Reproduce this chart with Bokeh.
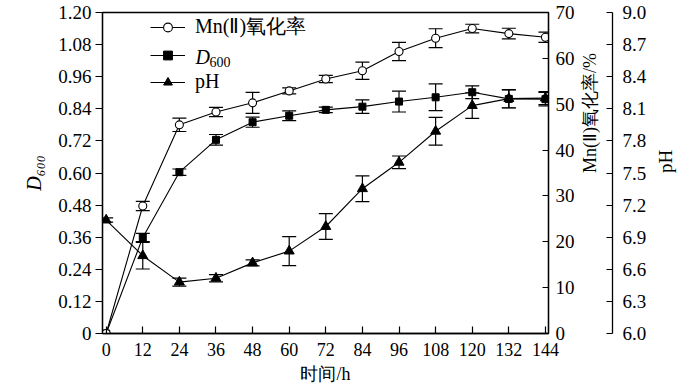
import math
from bokeh.plotting import figure
from bokeh.models import (Range1d, LinearAxis, FixedTicker, Legend, LegendItem, Label)
from bokeh.embed import file_html
from bokeh.resources import INLINE
from bokeh.core.properties import value

# ---------------- data ----------------
hours = [0, 12, 24, 36, 48, 60, 72, 84, 96, 108, 120, 132, 144]

mn_rate = [0, 27.8, 45.5, 48.3, 50.3, 52.9, 55.5, 57.3, 61.5, 64.4, 66.5, 65.4, 64.6]
mn_err = [0, 1.0, 1.45, 1.0, 2.3, 0.65, 0.8, 1.9, 2.0, 2.06, 0.94, 1.16, 1.1]

d600 = [0, 0.359, 0.603, 0.724, 0.790, 0.814, 0.836, 0.848, 0.867, 0.883, 0.902, 0.877, 0.876]
d600_err = [0, 0.015, 0.012, 0.020, 0.019, 0.018, 0.010, 0.025, 0.039, 0.050, 0.024, 0.034, 0.025]

ph = [7.06, 6.727, 6.48, 6.517, 6.66, 6.77, 7.0, 7.353, 7.60, 7.89, 8.13, 8.195, 8.2]
ph_err = [0.02, 0.124, 0.037, 0.034, 0.028, 0.136, 0.12, 0.12, 0.059, 0.13, 0.12, 0.085, 0.06]

x_ticks = [0, 12, 24, 36, 48, 60, 72, 84, 96, 108, 120, 132, 144]
d600_ticks = [0, 0.12, 0.24, 0.36, 0.48, 0.60, 0.72, 0.84, 0.96, 1.08, 1.20]
d600_tick_labels = ["0", "0.12", "0.24", "0.36", "0.48", "0.60", "0.72", "0.84", "0.96", "1.08", "1.20"]
mn_ticks = [0, 10, 20, 30, 40, 50, 60, 70]
ph_ticks = [6.0, 6.3, 6.6, 6.9, 7.2, 7.5, 7.8, 8.1, 8.4, 8.7, 9.0]
ph_tick_labels = ["6.0", "6.3", "6.6", "6.9", "7.2", "7.5", "7.8", "8.1", "8.4", "8.7", "9.0"]

legend_labels = ["Mn(Ⅱ)氧化率", "pH"]
x_title = "时间/h"
d600_title = "D₆₀₀"
mn_title = "Mn(Ⅱ)氧化率/%"
ph_title = "pH"

# ---------------- style ----------------
SERIF = "Liberation Serif"
TICK_FS = "19px"
X0, X1 = -1.2, 145
W, H = 698, 389
TOP, BOTTOM = 12, 56
FRAME_H = H - TOP - BOTTOM

p = figure(width=W, height=H, output_backend="svg", toolbar_location=None,
           x_range=Range1d(X0, X1), y_range=Range1d(0, 1.2),
           min_border_left=102, min_border_right=150, min_border_top=TOP,
           min_border_bottom=BOTTOM)
p.extra_y_ranges = {"mn": Range1d(0, 70), "ph": Range1d(6, 9)}
p.grid.visible = False
p.outline_line_color = "black"
p.outline_line_width = 1.3
p.background_fill_color = "white"
p.border_fill_color = "white"


def style_axis(ax):
    ax.axis_line_color = "black"
    ax.axis_line_width = 1.3
    ax.major_tick_line_color = "black"
    ax.major_tick_line_width = 1.2
    ax.minor_tick_in = 0
    ax.minor_tick_out = 0
    ax.major_label_text_font = SERIF
    ax.major_label_text_color = "black"
    ax.axis_label_text_font = SERIF
    ax.axis_label_text_color = "black"
    ax.axis_label_text_font_style = "normal"


# x axis
xa = p.xaxis[0]
style_axis(xa)
xa.ticker = FixedTicker(ticks=x_ticks)
xa.major_tick_in = 7
xa.major_tick_out = 0
xa.major_label_standoff = 9
xa.major_label_text_font_size = "18px"
xa.axis_label = x_title
xa.axis_label_text_font_size = "18px"
xa.axis_label_standoff = 5

# left axis
ya = p.yaxis[0]
style_axis(ya)
ya.ticker = FixedTicker(ticks=d600_ticks)
ya.major_label_overrides = {t: s for t, s in zip(d600_ticks, d600_tick_labels)}
ya.major_tick_in = 0
ya.major_tick_out = 7
ya.major_label_standoff = 4
ya.major_label_text_font_size = TICK_FS
ya.axis_label = d600_title
ya.axis_label_text_font_size = "20px"
ya.axis_label_text_font_style = "italic"
ya.axis_label_standoff = 10

# Mn axis (right of frame)
ax_mn = LinearAxis(y_range_name="mn", ticker=FixedTicker(ticks=mn_ticks))
style_axis(ax_mn)
ax_mn.major_tick_in = 6
ax_mn.major_tick_out = 0
ax_mn.major_label_standoff = 7
ax_mn.major_label_text_font_size = TICK_FS
ax_mn.axis_label = mn_title
ax_mn.axis_label_text_font_size = "18px"
ax_mn.axis_label_standoff = 12
try:
    ax_mn.axis_label_orientation = math.pi / 2
except Exception:
    pass
p.add_layout(ax_mn, "right")

# invisible spacer between the two right axes
spacer = LinearAxis(y_range_name="mn", ticker=FixedTicker(ticks=[]),
                    axis_line_color=None, major_tick_line_color=None,
                    minor_tick_line_color=None, major_tick_in=0, major_tick_out=12,
                    minor_tick_in=0, minor_tick_out=0, major_label_standoff=0)
p.add_layout(spacer, "right")

# pH axis (further right)
ax_ph = LinearAxis(y_range_name="ph", ticker=FixedTicker(ticks=ph_ticks),
                   major_label_overrides={t: s for t, s in zip(ph_ticks, ph_tick_labels)})
style_axis(ax_ph)
ax_ph.major_tick_in = 6
ax_ph.major_tick_out = 0
ax_ph.major_label_standoff = 10
ax_ph.major_label_text_font_size = TICK_FS
ax_ph.axis_label = ph_title
ax_ph.axis_label_text_font_size = "19px"
ax_ph.axis_label_standoff = 16
try:
    ax_ph.axis_label_orientation = math.pi / 2
except Exception:
    pass
p.add_layout(ax_ph, "right")


def error_bars(xs, ys, es, rng=None):
    kw = {} if rng is None else {"y_range_name": rng}
    bx = [x for x, e in zip(xs, es) if e > 0]
    lo = [y - e for y, e in zip(ys, es) if e > 0]
    hi = [y + e for y, e in zip(ys, es) if e > 0]
    p.segment(x0=bx, y0=lo, x1=bx, y1=hi, line_color="black", line_width=1.2, **kw)
    p.scatter(x=bx + bx, y=lo + hi, marker="dash", size=14, line_color="black",
              line_width=1.2, **kw)


error_bars(hours, d600, d600_err)
error_bars(hours, ph, ph_err, "ph")
error_bars(hours, mn_rate, mn_err, "mn")

r_d_line = p.line(hours, d600, line_color="black", line_width=1.1)
r_p_line = p.line(hours, ph, y_range_name="ph", line_color="black", line_width=1.1)
r_m_line = p.line(hours, mn_rate, y_range_name="mn", line_color="black", line_width=1.1)

r_d_pt = p.scatter(hours, d600, marker="square", size=7, fill_color="black", line_color="black")
r_p_pt = p.scatter(hours, ph, y_range_name="ph", marker="triangle", size=10,
                   fill_color="black", line_color="black")
r_m_pt = p.scatter(hours, mn_rate, y_range_name="mn", marker="circle", size=8,
                   fill_color="white", line_color="black", line_width=1.1)

# legend
GLYPH_H, SPACING, LEG_TOP = 22, 4, 7
leg_h = 3 * GLYPH_H + 2 * SPACING
legend = Legend(items=[
    LegendItem(label=value(legend_labels[0]), renderers=[r_m_line, r_m_pt]),
    LegendItem(label=value(" "), renderers=[r_d_line, r_d_pt]),
    LegendItem(label=value(legend_labels[1]), renderers=[r_p_line, r_p_pt]),
], location=(48, FRAME_H - LEG_TOP - leg_h), glyph_width=35, glyph_height=GLYPH_H,
    label_height=GLYPH_H, spacing=SPACING, padding=0, margin=0, label_standoff=10,
    label_text_font=SERIF, label_text_font_size="20px", label_text_line_height=1.0,
    label_text_color="black", border_line_color=None, background_fill_alpha=0)
p.add_layout(legend)

# italic D with subscript 600 in the legend
row2 = LEG_TOP + GLYPH_H + SPACING + GLYPH_H / 2
p.add_layout(Label(x=X0, y=1.2, x_offset=93, y_offset=-row2, text="D",
                   text_font=SERIF, text_font_style="italic", text_font_size="20px",
                   text_color="black", text_align="left", text_baseline="middle"))
p.add_layout(Label(x=X0, y=1.2, x_offset=107, y_offset=-row2 - 5, text="600",
                   text_font=SERIF, text_font_size="14px", text_color="black",
                   text_align="left", text_baseline="middle"))

open("out.html", "w").write(file_html(p, INLINE))
